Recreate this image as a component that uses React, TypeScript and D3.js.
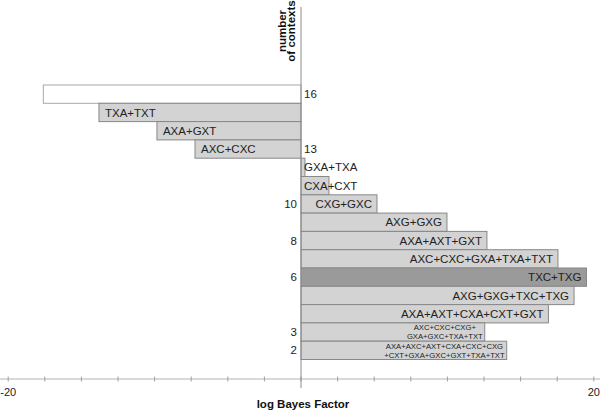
import React, { useEffect, useRef } from 'react';
import * as d3 from 'd3';

// combinations (each entry = lines of the label), log Bayes factors, number of contexts
const combos: string[][] = [
  [''],
  ['TXA+TXT'],
  ['AXA+GXT'],
  ['AXC+CXC'],
  ['GXA+TXA'],
  ['CXA+CXT'],
  ['CXG+GXC'],
  ['AXG+GXG'],
  ['AXA+AXT+GXT'],
  ['AXC+CXC+GXA+TXA+TXT'],
  ['TXC+TXG'],
  ['AXG+GXG+TXC+TXG'],
  ['AXA+AXT+CXA+CXT+GXT'],
  ['AXC+CXC+CXG+', 'GXA+GXC+TXA+TXT'],
  ['AXA+AXC+AXT+CXA+CXC+CXG', '+CXT+GXA+GXC+GXT+TXA+TXT'],
];
const logBF = [-17.6, -13.8, -9.84, -7.24, 0.27, 1.91, 5.19, 9.97, 12.7, 17.55, 19.5, 18.65, 16.9, 12.55, 14.05];
const contexts = ['16', '', '', '13', '', '', '10', '', '8', '', '6', '', '', '3', '2'];
const barKind = ['empty', 'normal', 'normal', 'normal', 'normal', 'normal', 'normal', 'normal', 'normal', 'normal', 'dark', 'normal', 'normal', 'normal', 'normal'];
const xTicks = [-20, -17.5, -15, -12.5, -10, -7.5, -5, -2.5, 0, 2.5, 5, 7.5, 10, 12.5, 15, 17.5, 20];
const xTickLabels = ['-20', '20'];

const App = () => {
  const svgRef = useRef<SVGSVGElement>(null);

  useEffect(() => {
    const svg = d3.select(svgRef.current);
    svg.selectAll('*').remove();

    const width = 600;
    const height = 413;
    const font = 'Liberation Sans, Arial, sans-serif';

    const x = d3.scaleLinear([-20, 20], [8.2, 593.8]);
    const y = d3.scaleBand(d3.range(combos.length), [85, 359.5]);
    const axisY = 379;
    const x0 = x(0);

    svg.attr('width', width).attr('height', height).attr('font-family', font);

    // horizontal axis
    const ax = svg.append('g');
    ax.append('line')
      .attr('x1', 0).attr('x2', width)
      .attr('y1', axisY).attr('y2', axisY)
      .attr('stroke', '#b4b4b4');
    ax.selectAll('line.tick')
      .data(xTicks)
      .join('line')
      .attr('class', 'tick')
      .attr('x1', d => x(d)).attr('x2', d => x(d))
      .attr('y1', axisY - 2.5).attr('y2', axisY + 2.5)
      .attr('stroke', '#a0a0a0');
    ax.selectAll('text')
      .data(xTickLabels)
      .join('text')
      .attr('x', d => x(+d))
      .attr('y', axisY + 17)
      .attr('text-anchor', 'middle')
      .attr('font-size', 11)
      .attr('fill', '#222')
      .text(d => d);

    // bars
    const fills: Record<string, string> = { empty: '#ffffff', normal: '#d3d3d3', dark: '#9a9a9a' };
    svg.append('g')
      .selectAll('rect')
      .data(logBF)
      .join('rect')
      .attr('x', d => Math.min(x(d), x0))
      .attr('y', (d, i) => y(i)!)
      .attr('width', d => Math.abs(x(d) - x0))
      .attr('height', y.bandwidth())
      .attr('fill', (d, i) => fills[barKind[i]])
      .attr('stroke', (d, i) => (barKind[i] === 'empty' ? '#a8a8a8' : '#888888'))
      .attr('stroke-width', 1);

    // vertical axis
    svg.append('line')
      .attr('x1', x0).attr('x2', x0)
      .attr('y1', 7).attr('y2', 388)
      .attr('stroke', '#8c8c8c');

    // bar labels
    const lab = svg.append('g').attr('fill', '#222');
    combos.forEach((lines, i) => {
      const v = logBF[i];
      const cy = y(i)! + y.bandwidth() / 2;
      if (lines.length === 1) {
        if (!lines[0]) return;
        const t = lab.append('text')
          .attr('y', cy)
          .attr('dy', '0.36em')
          .attr('font-size', 11.5)
          .text(lines[0]);
        const w = (t.node() as SVGTextElement).getComputedTextLength();
        const bw = Math.abs(x(v) - x0);
        if (v < 0) {
          t.attr('x', x(v) + 6).attr('text-anchor', 'start');
        } else if (w + 10 > bw) {
          t.attr('x', x0 + 3).attr('text-anchor', 'start');
        } else {
          t.attr('x', x(v) - 5).attr('text-anchor', 'end');
        }
      } else {
        const t = lab.append('text')
          .attr('font-size', 7.7)
          .attr('text-anchor', 'middle');
        const spans = lines.map((s, k) =>
          t.append('tspan')
            .attr('y', cy + (k - (lines.length - 1) / 2) * 9)
            .attr('dy', '0.36em')
            .text(s)
        );
        const maxW = d3.max(spans, s => (s.node() as SVGTSpanElement).getComputedTextLength()) || 0;
        spans.forEach(s => s.attr('x', x(v) - 2 - maxW / 2));
      }
    });

    // number of contexts labels
    svg.append('g')
      .selectAll('text')
      .data(contexts)
      .join('text')
      .attr('x', (d, i) => (logBF[i] < 0 ? x0 + 3 : x0 - 4))
      .attr('y', (d, i) => y(i)! + y.bandwidth() / 2)
      .attr('dy', '0.36em')
      .attr('text-anchor', (d, i) => (logBF[i] < 0 ? 'start' : 'end'))
      .attr('font-size', 11.5)
      .attr('fill', '#222')
      .text(d => d);

    // titles
    const yt = svg.append('text')
      .attr('transform', `translate(${x0 - 6},31) rotate(-90)`)
      .attr('text-anchor', 'middle')
      .attr('font-size', 11.5)
      .attr('font-weight', 'bold')
      .attr('fill', '#111');
    yt.append('tspan').attr('x', 0).attr('y', -9).text('number');
    yt.append('tspan').attr('x', 0).attr('y', 0).text('of contexts');

    svg.append('text')
      .attr('x', 303)
      .attr('y', 408)
      .attr('text-anchor', 'middle')
      .attr('font-size', 11.5)
      .attr('font-weight', 'bold')
      .attr('fill', '#111')
      .text('log Bayes Factor');
  }, []);

  return <svg ref={svgRef} style={{ position: 'absolute', left: 0, top: 0, background: '#fff' }} />;
};

export default App;
